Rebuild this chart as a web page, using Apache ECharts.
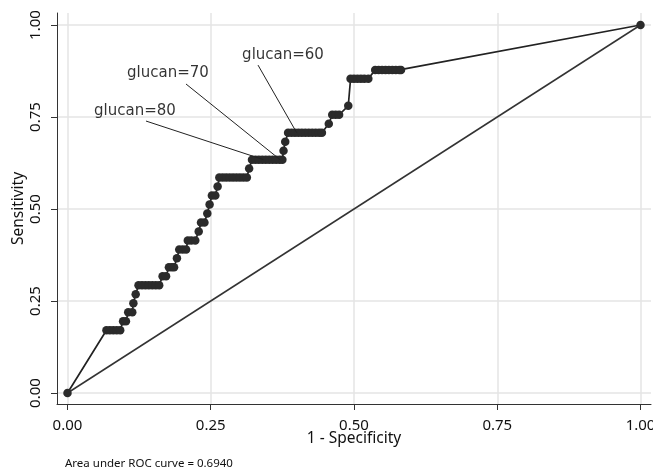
<!DOCTYPE html>
<html>
<head>
<meta charset="utf-8">
<script src="https://cdn.jsdelivr.net/npm/echarts@6/dist/echarts.min.js"></script>
<style>
html,body{margin:0;padding:0;background:#fff;}
#chart{width:653px;height:468px;}
</style>
</head>
<body>
<div id="chart"></div>
<script>
// ROC curve points (1 - specificity, sensitivity)
var fpr = [0,
  0.068, 0.074, 0.080, 0.086, 0.092,
  0.097, 0.102,
  0.106, 0.113,
  0.115,
  0.119,
  0.124, 0.130, 0.136, 0.142, 0.148, 0.154, 0.160,
  0.166, 0.172,
  0.177, 0.182, 0.186,
  0.191,
  0.195, 0.201, 0.207,
  0.210, 0.216, 0.223,
  0.229,
  0.233, 0.239,
  0.244,
  0.248,
  0.252, 0.258,
  0.262,
  0.265, 0.271, 0.277, 0.283, 0.289, 0.295, 0.301, 0.307, 0.313,
  0.317,
  0.322, 0.328, 0.334, 0.340, 0.346, 0.352, 0.358, 0.364, 0.370, 0.375,
  0.377,
  0.380,
  0.385, 0.391, 0.397, 0.403, 0.409, 0.415, 0.421, 0.427, 0.433, 0.439, 0.444,
  0.456,
  0.462, 0.468, 0.474,
  0.490,
  0.494, 0.500, 0.506, 0.512, 0.518, 0.525,
  0.537, 0.543, 0.549, 0.555, 0.561, 0.567, 0.573, 0.579, 0.582,
  1.000];
var tpr = [0,
  0.1707, 0.1707, 0.1707, 0.1707, 0.1707,
  0.1951, 0.1951,
  0.2195, 0.2195,
  0.2439,
  0.2683,
  0.2927, 0.2927, 0.2927, 0.2927, 0.2927, 0.2927, 0.2927,
  0.3171, 0.3171,
  0.3415, 0.3415, 0.3415,
  0.3659,
  0.3902, 0.3902, 0.3902,
  0.4146, 0.4146, 0.4146,
  0.4390,
  0.4634, 0.4634,
  0.4878,
  0.5122,
  0.5366, 0.5366,
  0.5610,
  0.5854, 0.5854, 0.5854, 0.5854, 0.5854, 0.5854, 0.5854, 0.5854, 0.5854,
  0.6098,
  0.6341, 0.6341, 0.6341, 0.6341, 0.6341, 0.6341, 0.6341, 0.6341, 0.6341, 0.6341,
  0.6585,
  0.6829,
  0.7073, 0.7073, 0.7073, 0.7073, 0.7073, 0.7073, 0.7073, 0.7073, 0.7073, 0.7073, 0.7073,
  0.7317,
  0.7561, 0.7561, 0.7561,
  0.7805,
  0.8537, 0.8537, 0.8537, 0.8537, 0.8537, 0.8537,
  0.8780, 0.8780, 0.8780, 0.8780, 0.8780, 0.8780, 0.8780, 0.8780, 0.8780,
  1.000];

// Reference (chance) line
var refX = [0, 1];
var refY = [0, 1];

// Cut-point annotations
var cutLabels = ['glucan=60', 'glucan=70', 'glucan=80'];
var cutFpr = [0.400, 0.371, 0.342];
var cutTpr = [0.7073, 0.6341, 0.6341];
var textFpr = [0.3325, 0.2068, 0.137];
var textTpr = [0.891, 0.8397, 0.739];

var tickValues = [0, 0.25, 0.5, 0.75, 1];
var tickLabels = ['0.00', '0.25', '0.50', '0.75', '1.00'];
var aucText = 'Area under ROC curve = 0.6940';

var labelOffsets = [[25, 1], [-18, 0], [-11, 1]];

var rocData = fpr.map(function (x, i) { return [x, tpr[i]]; });
var refData = refX.map(function (x, i) { return [x, refY[i]]; });

var series = [
  {
    type: 'line', data: refData, silent: true, symbol: 'none',
    lineStyle: { color: '#333', width: 1.5 }, z: 2
  },
  {
    type: 'line', data: rocData, silent: true, symbol: 'circle', symbolSize: 8.5,
    showAllSymbol: true,
    itemStyle: { color: '#2b2b2b' },
    lineStyle: { color: '#222', width: 1.7 }, z: 3
  }
];
cutLabels.forEach(function (name, i) {
  series.push({
    type: 'line', silent: true, symbol: 'none',
    data: [[textFpr[i], textTpr[i]], [cutFpr[i], cutTpr[i]]],
    lineStyle: { color: '#222', width: 1 }, z: 4
  });
});
series.push({
  type: 'scatter', silent: true, symbolSize: 2,
  itemStyle: { color: 'rgba(0,0,0,0)' },
  data: cutLabels.map(function (name, i) {
    return {
      value: [textFpr[i], textTpr[i]], name: name,
      label: { offset: labelOffsets[i] }
    };
  }),
  label: {
    show: true, position: 'top', distance: 2,
    formatter: function (p) { return p.name; },
    fontFamily: 'DejaVu Sans', fontSize: 15, color: '#000'
  },
  z: 5
});

var labelMap = {};
tickValues.forEach(function (v, i) { labelMap[v] = tickLabels[i]; });

var chart = echarts.init(document.getElementById('chart'), null, { renderer: 'canvas' });
chart.setOption({
  animation: false,
  backgroundColor: '#fff',
  textStyle: { fontFamily: 'Noto Sans' },
  title: {
    text: aucText, left: 60, top: 453,
    textStyle: { fontFamily: 'Noto Sans', fontSize: 11.5, fontWeight: 'normal', color: '#111' }
  },
  grid: { left: 57, right: 2, top: 13, bottom: 64, containLabel: false, outerBoundsMode: 'none' },
  xAxis: {
    type: 'value', min: -0.0183, max: 1.0183,
    name: '1 - Specificity', nameLocation: 'middle', nameGap: 27, nameMoveOverlap: false,
    nameTextStyle: { fontFamily: 'Noto Sans', fontSize: 15.5, color: '#111' },
    axisLine: { show: true, onZero: false, lineStyle: { color: '#333', width: 1 } },
    axisTick: { show: true, length: 6, customValues: tickValues, lineStyle: { color: '#333' } },
    axisLabel: {
      customValues: tickValues, margin: 14,
      formatter: function (v) { return labelMap[v] !== undefined ? labelMap[v] : ''; },
      fontFamily: 'Noto Sans', fontSize: 15, color: '#111'
    },
    splitLine: { show: true, lineStyle: { color: '#e4e4e4', width: 1.5 } }
  },
  yAxis: {
    type: 'value', min: -0.0299, max: 1.0326,
    name: 'Sensitivity', nameLocation: 'middle', nameGap: 30, nameRotate: 90, nameMoveOverlap: false,
    nameTextStyle: { fontFamily: 'Noto Sans', fontSize: 15.5, color: '#111' },
    axisLine: { show: true, onZero: false, lineStyle: { color: '#333', width: 1 } },
    axisTick: { show: true, length: 6, customValues: tickValues, lineStyle: { color: '#333' } },
    axisLabel: {
      customValues: tickValues, margin: 14, rotate: 90,
      formatter: function (v) { return labelMap[v] !== undefined ? labelMap[v] : ''; },
      fontFamily: 'Noto Sans', fontSize: 15, color: '#111'
    },
    splitLine: { show: true, lineStyle: { color: '#e4e4e4', width: 1.5 } }
  },
  series: series
});
</script>
</body>
</html>
